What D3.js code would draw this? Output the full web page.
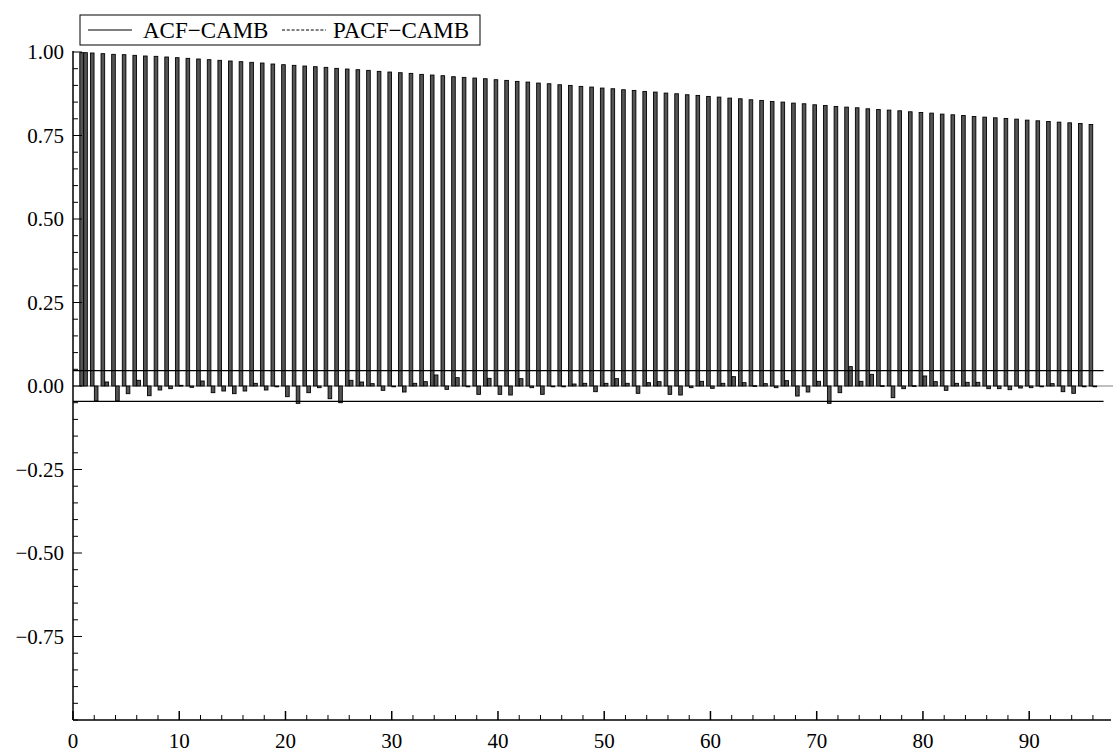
<!DOCTYPE html>
<html>
<head>
<meta charset="utf-8">
<script src="https://cdn.jsdelivr.net/npm/d3@7"></script>
<style>
  body{margin:0;background:#fff;}
  svg text{font-family:"Liberation Serif","Times New Roman",serif;fill:#000;}
</style>
</head>
<body>
<svg id="chart" width="1120" height="754"></svg>
<script>
// lags 1..96
const lags = d3.range(1, 97);

// ACF of CAMB
const acf = [
  0.998,0.997,0.995,0.993,0.992,0.990,0.988,0.987,0.985,0.983,
  0.981,0.979,0.977,0.975,0.973,0.971,0.969,0.967,0.964,0.962,
  0.960,0.958,0.956,0.954,0.951,0.949,0.947,0.945,0.942,0.940,
  0.938,0.936,0.933,0.931,0.929,0.926,0.924,0.922,0.920,0.917,
  0.915,0.912,0.910,0.907,0.905,0.902,0.900,0.897,0.895,0.892,
  0.890,0.887,0.885,0.882,0.880,0.877,0.875,0.872,0.870,0.867,
  0.865,0.862,0.860,0.857,0.855,0.852,0.850,0.847,0.845,0.842,
  0.840,0.837,0.835,0.833,0.830,0.828,0.826,0.824,0.821,0.819,
  0.817,0.814,0.812,0.810,0.807,0.805,0.803,0.801,0.799,0.796,
  0.794,0.792,0.790,0.788,0.786,0.783
];

// PACF of CAMB
const pacf = [
  0.998,-0.045,0.012,-0.045,-0.023,0.017,-0.029,-0.012,-0.008,0.002,
  -0.004,0.015,-0.020,-0.015,-0.023,-0.015,0.008,-0.012,-0.002,-0.032,
  -0.052,-0.020,-0.005,-0.038,-0.050,0.017,0.012,0.007,-0.013,-0.001,
  -0.018,0.008,0.013,0.033,-0.010,0.025,-0.001,-0.025,0.023,-0.025,
  -0.027,0.022,-0.005,-0.025,-0.001,-0.002,0.006,0.008,-0.017,0.008,
  0.022,0.008,-0.022,0.010,0.013,-0.025,-0.027,-0.005,0.014,-0.007,
  0.008,0.028,0.010,0.001,0.007,-0.005,0.016,-0.030,-0.018,0.014,
  -0.052,-0.020,0.058,0.014,0.035,0.001,-0.035,-0.008,0.001,0.030,
  0.013,-0.013,0.008,0.011,0.011,-0.008,-0.008,-0.011,-0.006,-0.005,
  -0.001,0.007,-0.017,-0.022,0.000,0.000
];

const band = 0.046;   // +/- 2/sqrt(T)
const xTicks = d3.range(0, 91, 10);
const xMinor = d3.range(0, 97, 2);
const yTicks = [1, 0.75, 0.5, 0.25, 0, -0.25, -0.5, -0.75];
const yMinor = d3.range(-20, 21).map(d => d / 20);
const legendItems = ['ACF\u2212CAMB', 'PACF\u2212CAMB'];

const svg = d3.select('#chart');
const x = d3.scaleLinear().domain([0, 97.7]).range([73, 1111]);
const y = d3.scaleLinear().domain([-1, 1]).range([720, 52]);
const fmt = d => d3.format('.2f')(d).replace('-', '\u2212');

// zero line
svg.append('line')
  .attr('x1', x(0)).attr('x2', 1113)
  .attr('y1', y(0)).attr('y2', y(0))
  .attr('stroke', '#aaa').attr('stroke-width', 1.5);

// bars
const bw = 0.34;
const acfData = lags.map((l, i) => ({l, v: acf[i]}));
const pacfData = lags.map((l, i) => ({l, v: pacf[i]}));

svg.append('g').selectAll('rect').data(acfData).enter().append('rect')
  .attr('x', d => x(d.l - bw - 0.02))
  .attr('width', x(bw) - x(0))
  .attr('y', d => y(Math.max(0, d.v)))
  .attr('height', d => Math.abs(y(d.v) - y(0)))
  .attr('fill', '#555').attr('stroke', '#000').attr('stroke-width', 0.9);

svg.append('g').selectAll('rect').data(pacfData).enter().append('rect')
  .attr('x', d => x(d.l + 0.01))
  .attr('width', x(bw) - x(0))
  .attr('y', d => y(Math.max(0, d.v)))
  .attr('height', d => Math.max(0.8, Math.abs(y(d.v) - y(0))))
  .attr('fill', '#555').attr('stroke', '#000').attr('stroke-width', 0.9);

// confidence bands
[band, -band].forEach(b => {
  svg.append('line')
    .attr('x1', x(0)).attr('x2', x(97))
    .attr('y1', y(b)).attr('y2', y(b))
    .attr('stroke', '#000').attr('stroke-width', 1.3);
});

// axes
const ax = svg.append('g').attr('stroke', '#000');
ax.append('line').attr('x1', x(0)).attr('x2', x(97.7)).attr('y1', y(-1)).attr('y2', y(-1)).attr('stroke-width', 1.5);
ax.append('line').attr('x1', x(0)).attr('x2', x(0)).attr('y1', y(1) - 1).attr('y2', y(-1)).attr('stroke-width', 1.5);

ax.selectAll('.xm').data(xMinor).enter().append('line')
  .attr('x1', d => x(d)).attr('x2', d => x(d))
  .attr('y1', y(-1)).attr('y2', d => y(-1) - (d % 10 === 0 ? 9 : 5))
  .attr('stroke-width', d => d % 10 === 0 ? 1.5 : 1);

ax.selectAll('.ym').data(yMinor).enter().append('line')
  .attr('y1', d => y(d)).attr('y2', d => y(d))
  .attr('x1', x(0)).attr('x2', d => x(0) + (yTicks.some(t => Math.abs(t - d) < 1e-9) ? 9 : 5))
  .attr('stroke-width', 1);

svg.append('g').selectAll('text').data(xTicks).enter().append('text')
  .attr('x', d => x(d)).attr('y', 748)
  .attr('text-anchor', 'middle').attr('font-size', 21)
  .text(d => d);

svg.append('g').selectAll('text').data(yTicks).enter().append('text')
  .attr('x', 64).attr('y', d => y(d) + 7)
  .attr('text-anchor', 'end').attr('font-size', 21)
  .text(fmt);

// legend
const lg = svg.append('g');
lg.append('rect').attr('x', 80).attr('y', 15).attr('width', 400).attr('height', 30)
  .attr('fill', '#fff').attr('stroke', '#000').attr('stroke-width', 1);
lg.append('line').attr('x1', 88).attr('x2', 132).attr('y1', 30).attr('y2', 30)
  .attr('stroke', '#000').attr('stroke-width', 1.2);
lg.append('line').attr('x1', 282).attr('x2', 326).attr('y1', 30).attr('y2', 30)
  .attr('stroke', '#000').attr('stroke-width', 1).attr('stroke-dasharray', '3,1.8');
lg.selectAll('text').data(legendItems).enter().append('text')
  .attr('x', (d, i) => i === 0 ? 143 : 333).attr('y', 38)
  .attr('font-size', 23)
  .text(d => d);
</script>
</body>
</html>
